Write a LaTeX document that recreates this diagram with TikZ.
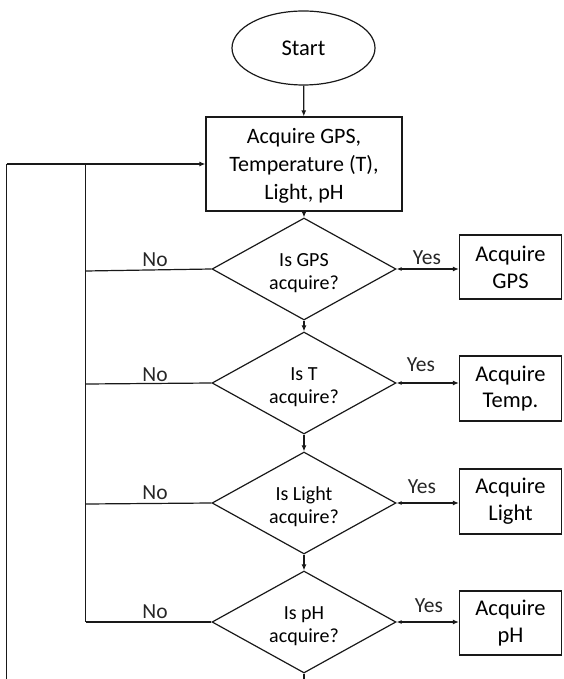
\documentclass[tikz,border=0pt]{standalone}
\usepackage{fontspec}
\setmainfont{Carlito}
\usetikzlibrary{shapes.geometric,arrows.meta}
\newcommand{\dtop}{\rule{0pt}{21pt}}
\tikzset{
  ln/.style={line width=1.2pt, draw=black!90},
  arr/.style={ln, -{Latex[length=6pt,width=5pt]}},
  biarr/.style={ln, {Latex[length=5pt,width=4pt]}-{Latex[length=6pt,width=5pt]}},
  startnode/.style={ellipse, ln, minimum width=143pt, minimum height=74pt, inner sep=0pt, font=\fontsize{22.5}{27}\selectfont},
  procbox/.style={rectangle, ln, minimum width=196pt, minimum height=94pt, inner sep=0pt, align=center, font=\fontsize{22}{28.3}\selectfont},
  sidebox/.style={rectangle, ln, minimum width=102pt, minimum height=64pt, inner sep=0pt, align=center, font=\fontsize{22.5}{26.7}\selectfont},
  decide/.style={diamond, aspect=1.8, ln, minimum width=184pt, minimum height=102pt, inner sep=0pt, align=center, font=\fontsize{20}{23}\selectfont},
  lbl/.style={inner sep=0pt, font=\fontsize{21.5}{24}\selectfont, text=black!85}
}
\begin{document}
\begin{tikzpicture}[x=1pt,y=-1pt]
\useasboundingbox (0,0) rectangle (563,679);
% nodes
\node[startnode] (start) at (303.5,48) {Start};
\node[procbox] (init) at (304,164) {\rule{0pt}{19pt}Acquire GPS,\\Temperature (T),\\Light, pH};
\node[decide] (d1) at (304,269) {\dtop Is GPS\\acquire?};
\node[decide] (d2) at (304,383) {\dtop Is T\\acquire?};
\node[decide] (d3) at (304,503) {\dtop Is Light\\acquire?};
\node[decide] (d4) at (304,622) {\dtop Is pH\\acquire?};
\node[sidebox] (b1) at (510.5,267) {Acquire\\GPS};
\node[sidebox, minimum height=65pt] (b2) at (510.5,388.5) {Acquire\\Temp.};
\node[sidebox, minimum height=65pt] (b3) at (510.5,501.5) {Acquire\\Light};
\node[sidebox] (b4) at (510.5,623) {Acquire\\pH};
% loop coordinates
\coordinate (outtop) at (6.7,164);
\coordinate (outbot) at (6.7,679);
\coordinate (intop) at (85.7,164);
\coordinate (in1) at (85.7,271);
\coordinate (in2) at (85.7,384);
\coordinate (in3) at (85.7,504);
\coordinate (in4) at (85.7,622);
\coordinate (bottom) at (304,679);
% main flow
\draw[arr] (start) -- (init);
\draw[arr] (init) -- (d1);
\draw[arr] (d1) -- (d2);
\draw[arr] (d2) -- (d3);
\draw[arr] (d3) -- (d4);
\draw[ln] (d4.south) -- (bottom);
% yes branches
\draw[biarr] (d1.east) -- (b1.west |- d1.east);
\draw[biarr] (d2.east) -- (b2.west |- d2.east);
\draw[biarr] (d3.east) -- (b3.west |- d3.east);
\draw[biarr] (d4.east) -- (b4.west |- d4.east);
% no branches
\draw[ln] (d1.west) -- (in1);
\draw[ln] (d2.west) -- (in2);
\draw[ln] (d3.west) -- (in3);
\draw[ln] (d4.west) -- (in4);
\draw[ln] (intop) -- (in4);
\draw[ln] (outbot) -- (outtop);
\draw[arr] (outtop) -- (init.west);
% labels
\node[lbl] (y1) at (427,258) {Yes};
\node[lbl] (y2) at (421,364.5) {Yes};
\node[lbl] (y3) at (422,487) {Yes};
\node[lbl] (y4) at (429,605.5) {Yes};
\node[lbl] (n1) at (155,260) {No};
\node[lbl] (n2) at (155,375) {No};
\node[lbl] (n3) at (155,493) {No};
\node[lbl] (n4) at (155,612) {No};
\end{tikzpicture}
\end{document}
